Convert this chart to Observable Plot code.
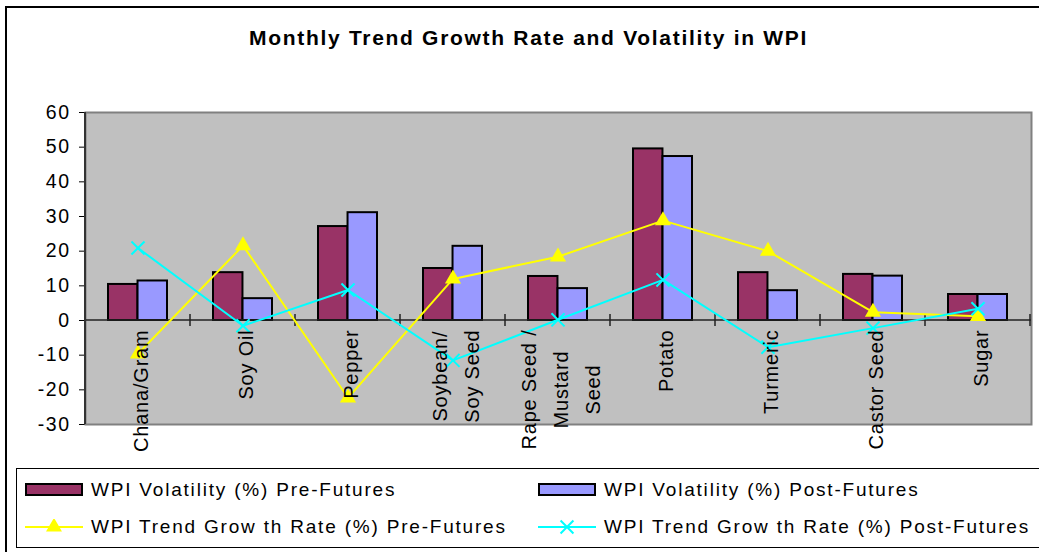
<!DOCTYPE html>
<html><head><meta charset="utf-8">
<script src="https://cdn.jsdelivr.net/npm/d3@7"></script>
<script src="https://cdn.jsdelivr.net/npm/@observablehq/plot@0.6"></script>
<style>
html,body{margin:0;padding:0;background:#fff;overflow:hidden}
#wrap{position:relative;width:1039px;height:552px;overflow:hidden;font-family:"Liberation Sans",Arial,sans-serif;color:#000}
#frame{position:absolute;left:5px;top:6px;width:1100px;height:600px;border:2px solid #000;box-sizing:border-box}
#title{position:absolute;left:6px;width:1045px;top:27px;line-height:21px;text-align:center;font-weight:bold;font-size:21px;letter-spacing:1.7px}
#chart{position:absolute;left:0;top:95px}
#legend{position:absolute;left:16px;top:468px;width:1060px;height:80px;border:1px solid #000;box-sizing:border-box;background:#fff}
.lt{position:absolute;font-size:19px;line-height:19px;letter-spacing:1.8px;white-space:pre}
.sw{position:absolute;width:58px;height:13px;border:2px solid #000;box-sizing:border-box}
.ls{position:absolute;width:58px;height:16px}
</style></head>
<body>
<div id="wrap">
  <div id="frame"></div>
  <div id="title"></div>
  <div id="chart"></div>
  <div id="legend"></div>
</div>
<script>
const title = "Monthly Trend Growth Rate and Volatility in WPI";
const categories = ["Chana/Gram","Soy Oil","Pepper","Soybean/ Soy Seed","Rape Seed / Mustard Seed","Potato","Turmeric","Castor Seed","Sugar"];
const tickLabels = ["Chana/Gram","Soy Oil","Pepper","Soybean/\nSoy Seed","Rape Seed /\nMustard\nSeed","Potato","Turmeric","Castor Seed","Sugar"];
const preVolatility  = [10.4, 13.8, 27.1, 15.0, 12.7, 49.5, 13.8, 13.3, 7.5];
const postVolatility = [11.4,  6.3, 31.1, 21.4,  9.2, 47.3,  8.6, 12.8, 7.5];
const preTrend  = [-9.6, 21.6, -22.3, 12.0, 18.4, 28.8, 20.0, 2.4, 1.2];
const postTrend = [20.9, -1.5,   8.8, -11.5, 0.2, 11.7, -7.7, -2.2, 3.4];
const yTicks = [-30,-20,-10,0,10,20,30,40,50,60];
const seriesNames = ["WPI Volatility (%) Pre-Futures","WPI Volatility (%) Post-Futures","WPI Trend Grow th Rate (%) Pre-Futures","WPI Trend Grow th Rate (%) Post-Futures"];
const colors = ["#993366","#9999FF","#FFFF00","#00FFFF"];

document.getElementById("title").textContent = title;

const W = 1039, H = 365, mL = 85, mR = 8, mT = 17, mB = 36;
const pad = 0.438;
const bw = (W - mL - mR) / categories.length * (1 - pad);

const rows = categories.map((c, i) => ({
  c, label: tickLabels[i],
  pre: preVolatility[i], post: postVolatility[i],
  tPre: preTrend[i], tPost: postTrend[i]
}));

const LABEL_FS = 20, LABEL_LS = 0.8;
const ctx = document.createElement("canvas").getContext("2d");
ctx.font = LABEL_FS + "px 'Liberation Sans'";
const textLen = s => ctx.measureText(s).width + s.length * LABEL_LS;

const labelMarks = rows.map(r => {
  const L = d3.max(r.label.split("\n"), textLen);
  return Plot.text([r], {
    x: "c", y: () => 0, text: "label", rotate: -90,
    textAnchor: "middle", lineAnchor: "middle", lineHeight: 1.6,
    fontSize: LABEL_FS, fill: "#000", dy: 9 + L / 2
  });
});

function decor(index, scales, values, dims) {
  const g = d3.create("svg:g");
  const x = scales.x, y = scales.y;
  const n = categories.length;
  const plotW = dims.width - dims.marginLeft - dims.marginRight;
  const step = x.step ? x.step() : plotW / n;
  const x0 = x.bandwidth ? x(categories[0]) - (step - x.bandwidth()) / 2 : dims.marginLeft;
  const y0 = y(0);
  g.append("line").attr("x1", dims.marginLeft).attr("x2", dims.width - dims.marginRight)
    .attr("y1", y0).attr("y2", y0).attr("stroke", "#222").attr("stroke-width", 1.5);
  for (let i = 0; i <= n; i++) {
    const xi = x0 + i * step;
    g.append("line").attr("x1", xi).attr("x2", xi).attr("y1", y0 - 6).attr("y2", y0 + 6)
      .attr("stroke", "#222").attr("stroke-width", 1.5);
  }
  g.append("line").attr("x1", dims.marginLeft).attr("x2", dims.marginLeft)
    .attr("y1", dims.marginTop).attr("y2", dims.height - dims.marginBottom)
    .attr("stroke", "#333").attr("stroke-width", 2);
  return g.node();
}

const svg = Plot.plot({
  width: W, height: H,
  marginLeft: mL, marginRight: mR, marginTop: mT, marginBottom: mB,
  style: {background: "transparent", fontFamily: "'Liberation Sans', Arial, sans-serif", fontSize: "19.5px", color: "#000"},
  x: {type: "band", domain: categories, paddingInner: pad, paddingOuter: pad / 2, axis: null},
  y: {domain: [-30, 60], ticks: yTicks, tickSize: 6, tickPadding: 9, label: null, grid: false, tickFormat: d => String(d)},
  marks: [
    Plot.frame({fill: "#C0C0C0", stroke: null}),
    Plot.frame({stroke: "#808080", strokeWidth: 2}),
    Plot.barY(rows, {x: "c", y: "pre", fill: colors[0], stroke: "#000", strokeWidth: 2, insetRight: bw / 2}),
    Plot.barY(rows, {x: "c", y: "post", fill: colors[1], stroke: "#000", strokeWidth: 2, insetLeft: bw / 2}),
    decor,
    Plot.line(rows, {x: "c", y: "tPre", stroke: colors[2], strokeWidth: 2}),
    Plot.line(rows, {x: "c", y: "tPost", stroke: colors[3], strokeWidth: 2}),
    Plot.dot(rows, {x: "c", y: "tPre", symbol: "triangle", fill: colors[2], stroke: null, r: 6}),
    Plot.dot(rows, {x: "c", y: "tPost", symbol: "times", stroke: colors[3], strokeWidth: 2, r: 6}),
    ...labelMarks
  ]
});
d3.select(svg).selectAll('g[aria-label="y-axis tick label"] text, g[aria-label="y-axis"] text').style("letter-spacing", "1.5px");
d3.select(svg).selectAll('g[aria-label="text"] text').style("letter-spacing", LABEL_LS + "px");
document.getElementById("chart").appendChild(svg);

// legend
const legend = d3.select("#legend");
const cols = [8, 521];
const rowsY = [{sw: 14, text: 11}, {sw: 50, text: 48}];
seriesNames.forEach((name, i) => {
  const col = cols[i % 2], row = rowsY[Math.floor(i / 2)];
  if (i < 2) {
    legend.append("div").attr("class", "sw").style("left", col + "px").style("top", row.sw + "px").style("background", colors[i]);
  } else {
    const s = legend.append("svg").attr("class", "ls").attr("width", 58).attr("height", 16)
      .style("left", col + "px").style("top", row.sw + "px");
    s.append("line").attr("x1", 0).attr("x2", 58).attr("y1", 8).attr("y2", 8).attr("stroke", colors[i]).attr("stroke-width", 2);
    const sym = i === 2 ? d3.symbolTriangle : d3.symbolTimes;
    const p = s.append("path").attr("transform", "translate(29,8)").attr("d", d3.symbol(sym, 110)());
    if (i === 2) p.attr("fill", colors[i]); else p.attr("fill", "none").attr("stroke", colors[i]).attr("stroke-width", 2);
  }
  legend.append("div").attr("class", "lt").style("left", (col + 66) + "px").style("top", row.text + "px").text(name);
});
</script>
</body></html>
